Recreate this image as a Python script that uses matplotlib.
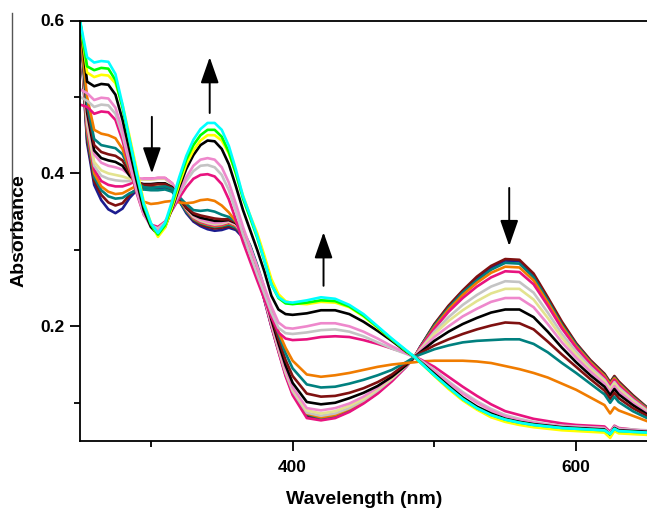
import matplotlib
matplotlib.use("Agg")
import matplotlib.pyplot as plt
from matplotlib.lines import Line2D

plt.rcParams['font.family'] = ['Liberation Sans', 'DejaVu Sans']
plt.rcParams['font.weight'] = 'bold'

# wavelength grid (nm) shared by all spectra
WL = [250, 255, 260, 265, 270, 275, 280, 285, 290, 295,
      300, 305, 310, 315, 320, 325, 330, 335, 340, 345,
      350, 355, 360, 365, 370, 375, 380, 385, 390, 395,
      400, 410, 420, 430, 440, 450, 460, 470, 480, 486,
      490, 500, 510, 520, 530, 540, 550, 560, 570, 580,
      590, 600, 610, 620, 624, 627, 630, 640, 650]

# ---- early spectra (strong 550 nm band) ----
navy1 = [0.59, 0.44, 0.385, 0.365, 0.353, 0.348, 0.354, 0.368, 0.378, 0.380,
         0.379, 0.380, 0.381, 0.377, 0.364, 0.348, 0.337, 0.331, 0.327, 0.325,
         0.326, 0.329, 0.326, 0.316, 0.297, 0.268, 0.235, 0.200, 0.168, 0.137,
         0.112, 0.083, 0.078, 0.081, 0.089, 0.100, 0.113, 0.129, 0.147, 0.160,
         0.173, 0.202, 0.226, 0.246, 0.263, 0.277, 0.286, 0.285, 0.267, 0.236,
         0.204, 0.177, 0.155, 0.137, 0.126, 0.134, 0.127, 0.109, 0.093]
maroon1 = [0.59, 0.445, 0.39, 0.372, 0.362, 0.358, 0.361, 0.372, 0.380, 0.382,
           0.382, 0.382, 0.383, 0.378, 0.365, 0.350, 0.339, 0.333, 0.330, 0.328,
           0.329, 0.331, 0.328, 0.318, 0.299, 0.270, 0.237, 0.202, 0.170, 0.139,
           0.114, 0.084, 0.079, 0.082, 0.090, 0.101, 0.114, 0.130, 0.148, 0.160,
           0.173, 0.203, 0.227, 0.247, 0.265, 0.279, 0.288, 0.287, 0.269, 0.238,
           0.206, 0.178, 0.156, 0.138, 0.127, 0.135, 0.128, 0.110, 0.094]
teal1 = [0.59, 0.45, 0.395, 0.378, 0.370, 0.367, 0.368, 0.374, 0.378, 0.379,
         0.378, 0.378, 0.379, 0.376, 0.364, 0.350, 0.340, 0.335, 0.332, 0.330,
         0.331, 0.333, 0.329, 0.319, 0.300, 0.271, 0.238, 0.203, 0.171, 0.140,
         0.115, 0.085, 0.080, 0.083, 0.091, 0.102, 0.115, 0.130, 0.148, 0.160,
         0.173, 0.201, 0.224, 0.244, 0.260, 0.274, 0.283, 0.282, 0.264, 0.234,
         0.202, 0.176, 0.154, 0.136, 0.125, 0.133, 0.126, 0.108, 0.093]
orange1 = [0.59, 0.455, 0.40, 0.383, 0.376, 0.373, 0.374, 0.379, 0.384, 0.385,
           0.385, 0.386, 0.386, 0.381, 0.367, 0.352, 0.341, 0.336, 0.333, 0.331,
           0.332, 0.335, 0.331, 0.320, 0.301, 0.272, 0.239, 0.204, 0.172, 0.141,
           0.116, 0.086, 0.081, 0.084, 0.092, 0.102, 0.115, 0.130, 0.148, 0.160,
           0.172, 0.199, 0.222, 0.241, 0.257, 0.270, 0.278, 0.277, 0.260, 0.231,
           0.200, 0.174, 0.153, 0.135, 0.124, 0.132, 0.125, 0.107, 0.092]
pink1 = [0.59, 0.46, 0.405, 0.390, 0.385, 0.383, 0.383, 0.386, 0.391, 0.393,
         0.393, 0.394, 0.394, 0.387, 0.370, 0.353, 0.342, 0.337, 0.334, 0.332,
         0.333, 0.336, 0.332, 0.320, 0.300, 0.270, 0.236, 0.200, 0.167, 0.135,
         0.110, 0.080, 0.077, 0.080, 0.088, 0.099, 0.112, 0.128, 0.147, 0.160,
         0.172, 0.197, 0.219, 0.237, 0.252, 0.264, 0.272, 0.271, 0.255, 0.227,
         0.197, 0.172, 0.151, 0.133, 0.122, 0.130, 0.123, 0.106, 0.091]
gray1 = [0.59, 0.465, 0.41, 0.397, 0.393, 0.391, 0.390, 0.390, 0.391, 0.392,
         0.392, 0.393, 0.393, 0.386, 0.370, 0.354, 0.343, 0.338, 0.335, 0.333,
         0.334, 0.337, 0.333, 0.321, 0.301, 0.272, 0.238, 0.203, 0.170, 0.139,
         0.115, 0.087, 0.083, 0.086, 0.093, 0.103, 0.116, 0.131, 0.148, 0.160,
         0.170, 0.193, 0.212, 0.228, 0.241, 0.252, 0.259, 0.258, 0.244, 0.218,
         0.190, 0.167, 0.147, 0.130, 0.119, 0.127, 0.120, 0.104, 0.090]
khaki1 = [0.59, 0.47, 0.415, 0.404, 0.400, 0.398, 0.396, 0.393, 0.392, 0.392,
          0.392, 0.393, 0.393, 0.386, 0.370, 0.355, 0.344, 0.339, 0.336, 0.334,
          0.335, 0.337, 0.333, 0.322, 0.302, 0.273, 0.240, 0.205, 0.172, 0.142,
          0.118, 0.090, 0.086, 0.089, 0.096, 0.105, 0.118, 0.132, 0.149, 0.160,
          0.169, 0.190, 0.207, 0.221, 0.233, 0.243, 0.249, 0.249, 0.235, 0.211,
          0.185, 0.163, 0.144, 0.128, 0.117, 0.125, 0.118, 0.102, 0.088]
orchid1 = [0.59, 0.475, 0.425, 0.414, 0.410, 0.408, 0.405, 0.398, 0.394, 0.393,
           0.393, 0.394, 0.394, 0.387, 0.371, 0.356, 0.345, 0.340, 0.337, 0.335,
           0.336, 0.338, 0.334, 0.322, 0.303, 0.274, 0.241, 0.206, 0.174, 0.144,
           0.120, 0.093, 0.090, 0.093, 0.099, 0.108, 0.120, 0.134, 0.150, 0.160,
           0.168, 0.186, 0.200, 0.213, 0.223, 0.232, 0.237, 0.237, 0.225, 0.203,
           0.179, 0.159, 0.141, 0.125, 0.114, 0.122, 0.115, 0.100, 0.087]
black1 = [0.60, 0.48, 0.43, 0.420, 0.417, 0.415, 0.410, 0.397, 0.388, 0.386,
          0.386, 0.387, 0.387, 0.382, 0.368, 0.355, 0.346, 0.342, 0.340, 0.338,
          0.338, 0.339, 0.335, 0.323, 0.303, 0.275, 0.243, 0.209, 0.178, 0.149,
          0.126, 0.101, 0.098, 0.100, 0.106, 0.113, 0.122, 0.134, 0.149, 0.160,
          0.166, 0.181, 0.193, 0.203, 0.211, 0.218, 0.222, 0.222, 0.212, 0.193,
          0.172, 0.153, 0.136, 0.121, 0.110, 0.118, 0.111, 0.097, 0.085]
maroon2 = [0.59, 0.485, 0.437, 0.428, 0.425, 0.423, 0.417, 0.401, 0.389, 0.385,
           0.385, 0.386, 0.386, 0.381, 0.368, 0.356, 0.348, 0.345, 0.343, 0.341,
           0.340, 0.340, 0.336, 0.324, 0.305, 0.278, 0.246, 0.213, 0.183, 0.156,
           0.135, 0.112, 0.108, 0.109, 0.113, 0.119, 0.127, 0.137, 0.151, 0.160,
           0.165, 0.175, 0.183, 0.190, 0.196, 0.201, 0.205, 0.204, 0.196, 0.180,
           0.163, 0.147, 0.131, 0.116, 0.105, 0.113, 0.106, 0.093, 0.083]
teal2 = [0.59, 0.49, 0.445, 0.437, 0.435, 0.433, 0.425, 0.405, 0.388, 0.382,
         0.381, 0.382, 0.383, 0.380, 0.369, 0.360, 0.352, 0.351, 0.352, 0.350,
         0.346, 0.343, 0.337, 0.325, 0.306, 0.280, 0.250, 0.218, 0.190, 0.165,
         0.145, 0.124, 0.120, 0.121, 0.125, 0.130, 0.136, 0.143, 0.153, 0.160,
         0.163, 0.170, 0.175, 0.179, 0.181, 0.182, 0.183, 0.183, 0.177, 0.166,
         0.152, 0.139, 0.125, 0.111, 0.100, 0.108, 0.101, 0.089, 0.080]
orange2 = [0.59, 0.50, 0.457, 0.452, 0.450, 0.446, 0.432, 0.405, 0.377, 0.363,
           0.360, 0.361, 0.363, 0.364, 0.362, 0.361, 0.362, 0.365, 0.366, 0.364,
           0.358, 0.349, 0.337, 0.322, 0.302, 0.277, 0.248, 0.219, 0.193, 0.172,
           0.155, 0.137, 0.134, 0.136, 0.139, 0.143, 0.147, 0.150, 0.152, 0.153,
           0.154, 0.155, 0.155, 0.155, 0.154, 0.152, 0.148, 0.144, 0.139, 0.133,
           0.125, 0.117, 0.107, 0.097, 0.086, 0.094, 0.090, 0.083, 0.076]

# ---- late spectra (340 nm band grown) ----
pink2 = [0.49, 0.487, 0.478, 0.481, 0.480, 0.470, 0.443, 0.408, 0.374, 0.346,
         0.333, 0.330, 0.337, 0.352, 0.368, 0.382, 0.393, 0.398, 0.399, 0.396,
         0.386, 0.366, 0.339, 0.310, 0.285, 0.260, 0.236, 0.212, 0.192, 0.184,
         0.182, 0.183, 0.186, 0.187, 0.186, 0.182, 0.177, 0.171, 0.165, 0.160,
         0.157, 0.147, 0.134, 0.121, 0.109, 0.098, 0.089, 0.084, 0.079, 0.076,
         0.073, 0.071, 0.070, 0.069, 0.062, 0.070, 0.067, 0.065, 0.063]
gray2 = [0.50, 0.495, 0.487, 0.490, 0.489, 0.478, 0.450, 0.413, 0.377, 0.347,
         0.332, 0.328, 0.336, 0.354, 0.373, 0.390, 0.403, 0.410, 0.411, 0.408,
         0.398, 0.378, 0.350, 0.320, 0.294, 0.268, 0.243, 0.218, 0.198, 0.191,
         0.190, 0.192, 0.195, 0.196, 0.193, 0.187, 0.179, 0.171, 0.164, 0.160,
         0.156, 0.143, 0.128, 0.114, 0.102, 0.092, 0.084, 0.079, 0.075, 0.072,
         0.070, 0.069, 0.068, 0.067, 0.060, 0.069, 0.066, 0.065, 0.064]
orchid2 = [0.51, 0.505, 0.496, 0.499, 0.498, 0.486, 0.456, 0.418, 0.380, 0.347,
           0.330, 0.325, 0.334, 0.354, 0.376, 0.395, 0.410, 0.418, 0.420, 0.418,
           0.408, 0.388, 0.360, 0.330, 0.304, 0.278, 0.252, 0.226, 0.205, 0.198,
           0.197, 0.200, 0.204, 0.204, 0.200, 0.193, 0.184, 0.174, 0.165, 0.160,
           0.155, 0.141, 0.126, 0.112, 0.100, 0.090, 0.082, 0.077, 0.074, 0.071,
           0.069, 0.068, 0.067, 0.066, 0.059, 0.068, 0.065, 0.064, 0.063]
black2 = [0.60, 0.52, 0.514, 0.517, 0.516, 0.503, 0.470, 0.430, 0.390, 0.352,
          0.330, 0.320, 0.330, 0.354, 0.382, 0.406, 0.424, 0.437, 0.443, 0.442,
          0.432, 0.412, 0.383, 0.352, 0.326, 0.300, 0.272, 0.240, 0.222, 0.216,
          0.215, 0.217, 0.221, 0.221, 0.216, 0.206, 0.194, 0.181, 0.167, 0.160,
          0.154, 0.138, 0.122, 0.107, 0.095, 0.086, 0.079, 0.075, 0.072, 0.070,
          0.068, 0.067, 0.066, 0.065, 0.058, 0.067, 0.064, 0.063, 0.062]
yellow = [0.60, 0.532, 0.526, 0.529, 0.528, 0.518, 0.490, 0.448, 0.405, 0.363,
          0.335, 0.317, 0.329, 0.356, 0.386, 0.412, 0.430, 0.443, 0.450, 0.450,
          0.443, 0.426, 0.400, 0.371, 0.345, 0.322, 0.293, 0.262, 0.242, 0.233,
          0.230, 0.229, 0.232, 0.231, 0.225, 0.213, 0.198, 0.183, 0.168, 0.160,
          0.153, 0.135, 0.118, 0.103, 0.091, 0.081, 0.075, 0.071, 0.068, 0.066,
          0.064, 0.063, 0.062, 0.061, 0.054, 0.063, 0.060, 0.059, 0.058]
green = [0.60, 0.54, 0.535, 0.538, 0.537, 0.522, 0.486, 0.442, 0.398, 0.358,
         0.333, 0.320, 0.332, 0.360, 0.391, 0.418, 0.437, 0.450, 0.457, 0.457,
         0.448, 0.428, 0.400, 0.367, 0.342, 0.316, 0.286, 0.255, 0.237, 0.230,
         0.229, 0.231, 0.234, 0.233, 0.226, 0.214, 0.199, 0.183, 0.168, 0.160,
         0.153, 0.136, 0.120, 0.105, 0.093, 0.084, 0.078, 0.074, 0.071, 0.069,
         0.067, 0.066, 0.065, 0.064, 0.059, 0.066, 0.063, 0.062, 0.061]
cyan = [0.60, 0.552, 0.545, 0.547, 0.546, 0.530, 0.490, 0.444, 0.400, 0.360,
        0.335, 0.322, 0.335, 0.364, 0.395, 0.423, 0.444, 0.458, 0.466, 0.466,
        0.457, 0.436, 0.405, 0.370, 0.345, 0.318, 0.287, 0.255, 0.238, 0.232,
        0.231, 0.234, 0.238, 0.236, 0.228, 0.216, 0.200, 0.184, 0.169, 0.160,
        0.153, 0.136, 0.120, 0.105, 0.093, 0.084, 0.078, 0.074, 0.071, 0.069,
        0.067, 0.066, 0.065, 0.064, 0.059, 0.066, 0.063, 0.062, 0.061]

spectra = [navy1, maroon1, teal1, orange1, pink1, gray1, khaki1, orchid1,
           black1, maroon2, teal2, orange2,
           pink2, gray2, orchid2, black2, yellow, green, cyan]
colors = ['#1c1c8f', '#7f1010', '#00807f', '#f07c00', '#e8137f', '#c4c4c4',
          '#e3e38f', '#ee88cc', '#000000', '#7f1010', '#00807f', '#f07c00',
          '#e8137f', '#c4c4c4', '#ee88cc', '#000000', '#ffff00', '#00ff00',
          '#00ffff']

# arrows: (x, y_start, y_end) in data units
arrows = [(300.7, 0.474, 0.400), (341.5, 0.479, 0.552),
          (421.8, 0.253, 0.323), (552.8, 0.381, 0.305)]

fig = plt.figure(figsize=(6.47, 5.08), dpi=100)
ax = fig.add_axes([80/647, 67/508, 567/647, 420.5/508])

for ys, c in zip(spectra, colors):
    ax.plot(WL, ys, color=c, lw=1.9, solid_joinstyle='round')

for x, y0, y1 in arrows:
    ax.annotate('', xy=(x, y1), xytext=(x, y0),
                arrowprops=dict(arrowstyle='-|>,head_length=0.8,head_width=0.28',
                                color='black', lw=1.4, mutation_scale=20,
                                shrinkA=0, shrinkB=0))

ax.set_xlim(250, 650)
ax.set_ylim(0.05, 0.6)
ax.set_xticks([400, 600])
ax.set_xticks([300, 500], minor=True)
ax.set_yticks([0.2, 0.4, 0.6])
ax.set_yticks([0.1, 0.3, 0.5], minor=True)
ax.set_xticklabels(['400', '600'])
ax.set_yticklabels(['0.2', '0.4', '0.6'])
ax.tick_params(which='major', length=7, width=1.3, labelsize=12.5, pad=4)
ax.tick_params(which='minor', length=4, width=1.3)
ax.tick_params(axis='x', which='major', pad=7)
ax.spines['right'].set_visible(False)
for s in ['left', 'bottom', 'top']:
    ax.spines[s].set_linewidth(1.3)

fig.text(364/647, 1 - 499/508, 'Wavelength (nm)', ha='center', va='center',
         fontsize=14, fontweight='bold')
fig.text(19/647, 1 - 231/508, 'Absorbance', ha='center', va='center',
         rotation=90, fontsize=14, fontweight='bold')
fig.add_artist(Line2D([11.5/647, 11.5/647], [1 - 13/508, 1 - 252/508],
                      color='#555555', lw=1.0))

fig.savefig('out.png', dpi=100)
